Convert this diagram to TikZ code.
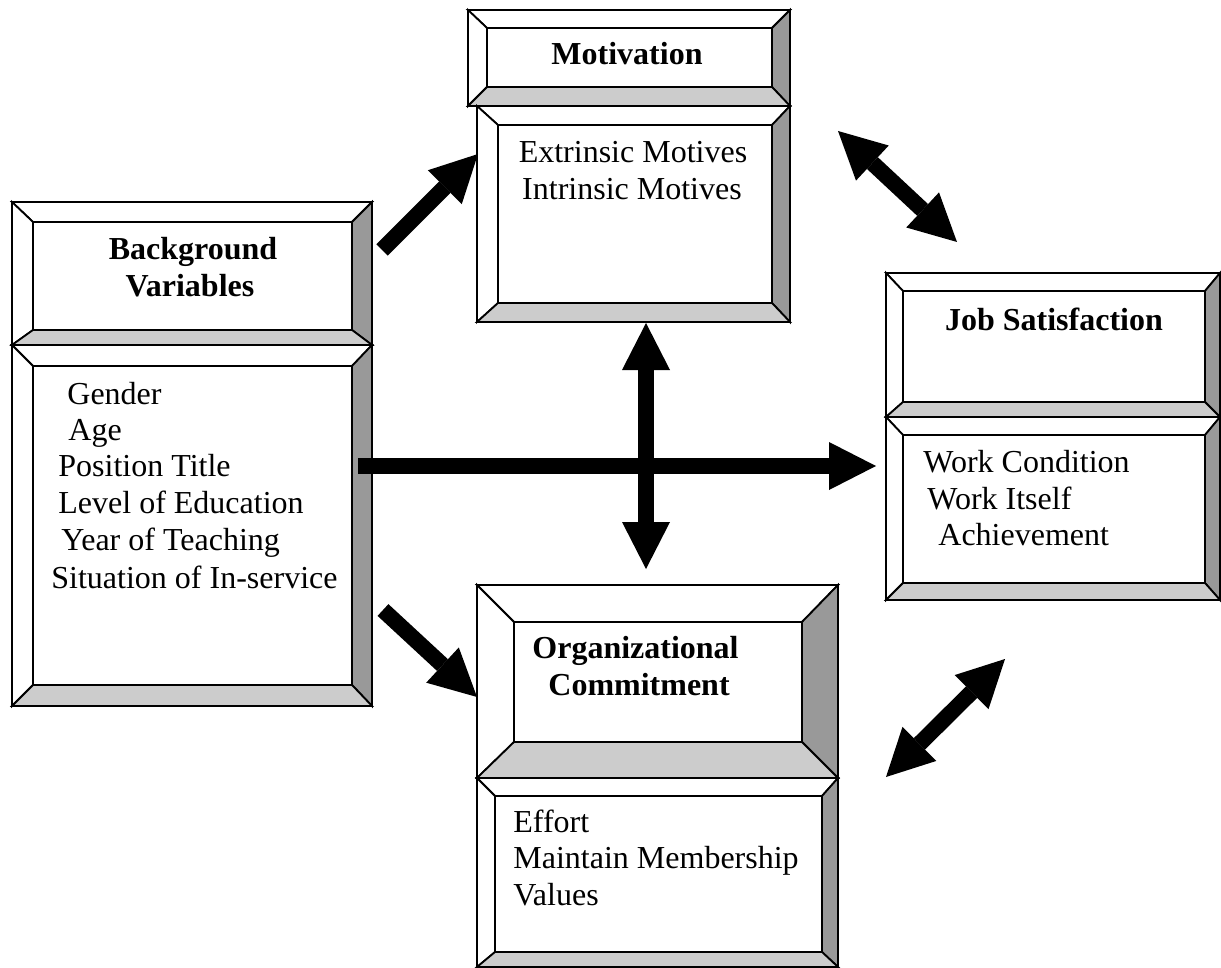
\documentclass[tikz,border=0pt]{standalone}
\usepackage{fontspec}
\setmainfont{Liberation Serif}
\usetikzlibrary{arrows.meta}

\definecolor{facetdark}{HTML}{999999}
\definecolor{facetlight}{HTML}{CCCCCC}

% bevelled box: outer corners (#1,#2)-(#3,#4), inner face (#5,#6)-(#7,#8)
\newcommand{\bevelbox}[8]{%
	\filldraw[facet, fill=white] (#1,#2) -- (#3,#2) -- (#7,#6) -- (#5,#6) -- cycle;
	\filldraw[facet, fill=white] (#1,#2) -- (#5,#6) -- (#5,#8) -- (#1,#4) -- cycle;
	\filldraw[facet, fill=facetdark] (#3,#2) -- (#3,#4) -- (#7,#8) -- (#7,#6) -- cycle;
	\filldraw[facet, fill=facetlight] (#1,#4) -- (#3,#4) -- (#7,#8) -- (#5,#8) -- cycle;
	\filldraw[facet, fill=white] (#5,#6) rectangle (#7,#8);
}

\tikzset{blockhead/.tip={Triangle[length=23.5pt,width=24pt,line width=0pt]}}

\begin{document}
\begin{tikzpicture}[x=0.5pt, y=-0.5pt,
	facet/.style={draw=black, line width=0.9pt, line join=miter},
	txt/.style={inner sep=0pt, font=\fontsize{16}{18.4}\selectfont},
	title/.style={inner sep=0pt, font=\fontsize{16}{18.4}\selectfont\bfseries},
	arrowline/.style={line width=8pt, black}]
		\useasboundingbox (0,0) rectangle (1221,968);
		
		% boxes
		\bevelbox{12}{202}{372}{345}{33}{222}{352}{330}
		\bevelbox{12}{345}{372}{706}{33}{366}{352}{685}
		\bevelbox{468}{10}{790}{106}{487}{28}{772}{87}
		\bevelbox{477}{106}{790}{322}{498}{125}{772}{303}
		\bevelbox{477}{585}{838}{778}{514}{622}{802}{742}
		\bevelbox{477}{778}{838}{967}{495}{796}{822}{952}
		\bevelbox{886}{273}{1220}{417}{903}{291}{1205}{402}
		\bevelbox{886}{417}{1220}{600}{903}{435}{1205}{583}
		
		% titles
		\node[title, anchor=base] (bgtitle1) at (193,260) {Background};
		\node[title, anchor=base] (bgtitle2) at (190,297) {Variables};
		\node[title, anchor=base] (mottitle) at (627,65) {Motivation};
		\node[title, anchor=base west] (orgtitle1) at (532,658) {Organizational};
		\node[title, anchor=base west] (orgtitle2) at (548,695) {Commitment};
		\node[title, anchor=base] (jobtitle) at (1054,330) {Job Satisfaction};
		
		% items
		\foreach \x/\y/\t [count=\i] in {67/404/Gender, 68/440/Age,
			58/476/Position Title, 58/513/Level of Education,
			61/550/Year of Teaching, 51/588/Situation of In-service}
		\node[txt, anchor=base west] (bgitem\i) at (\x,\y) {\t};
		
		\node[txt, anchor=base] (motitem1) at (633,163) {Extrinsic Motives};
		\node[txt, anchor=base] (motitem2) at (632,200) {Intrinsic Motives};
		
		\foreach \y/\t [count=\i] in {832/Effort, 868/Maintain Membership, 905/Values}
		\node[txt, anchor=base west] (orgitem\i) at (513,\y) {\t};
		
		\foreach \x/\y/\t [count=\i] in {923/472/Work Condition, 927/509/Work Itself,
			938/545/Achievement}
		\node[txt, anchor=base west] (jobitem\i) at (\x,\y) {\t};
		
		% arrow ends
		\coordinate (bgmot-s) at (382,250);
		\coordinate (bgmot-e) at (478,154);
		\coordinate (bgorg-s) at (383,610);
		\coordinate (bgorg-e) at (477,697);
		\coordinate (bgjob-s) at (358,466);
		\coordinate (bgjob-e) at (876,466);
		\coordinate (motorg-s) at (646,323);
		\coordinate (motorg-e) at (646,569);
		\coordinate (motjob-s) at (838,131);
		\coordinate (motjob-e) at (957,242);
		\coordinate (orgjob-s) at (886,777);
		\coordinate (orgjob-e) at (1005,659);
		
		% arrows
		\draw[arrowline, -blockhead] (bgmot-s) -- (bgmot-e);
		\draw[arrowline, -blockhead] (bgorg-s) -- (bgorg-e);
		\draw[arrowline, -blockhead] (bgjob-s) -- (bgjob-e);
		\draw[arrowline, blockhead-blockhead] (motorg-s) -- (motorg-e);
		\draw[arrowline, blockhead-blockhead] (motjob-s) -- (motjob-e);
		\draw[arrowline, blockhead-blockhead] (orgjob-s) -- (orgjob-e);
		
	\end{tikzpicture}
\end{document}
